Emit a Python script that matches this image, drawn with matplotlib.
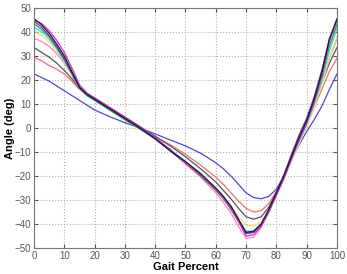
"""
Gait cycle joint angle curves - several trials overlaid
"""

import matplotlib
matplotlib.use("Agg")
import matplotlib.pyplot as plt

# gait percent samples shared by all trials
gait_pct = [0, 2.5, 5, 7.5, 10, 12.5, 15, 17.5, 20, 25, 30, 35, 40, 45, 50, 55, 60,
            62.5, 65, 67.5, 70, 72.5, 75, 77.5, 80, 82.5, 85, 87.5, 90, 92.5, 95, 97.5, 100]

# angle (deg) per trial
black = [45.5, 43, 39.5, 35, 30, 23.5, 17, 14, 12, 8, 4, 0, -4.5, -9.5, -14, -19, -25,
         -28.5, -32.5, -38, -43.5, -43, -40, -34, -27, -20, -12, -4, 3, 12, 23, 37, 45.5]
magenta = [45, 43.5, 40.5, 36.5, 31.5, 25, 18, 14.5, 12.5, 8.5, 4.5, 0.5, -4, -9, -14.5, -19.5, -25.5,
           -29, -33.5, -39, -45, -44.5, -41, -35, -28, -21, -13, -5, 2, 11, 22, 36, 45]
purple = [44.5, 42, 38.5, 34, 29, 23, 17, 14, 12, 8, 4, 0, -4.5, -9.5, -14.5, -19.5, -25.5,
          -29, -33, -38.5, -44, -43.5, -40.5, -34.5, -27, -19.5, -11, -3, 4, 13, 24, 37, 44.5]
green = [43.5, 41, 38, 33.5, 28.5, 22.5, 16.5, 13.5, 11.5, 7.5, 3.5, -0.5, -4.5, -9.5, -14.5, -20, -26,
         -29.5, -34, -39, -44, -43.5, -40.5, -35, -28, -20.5, -12.5, -5, 2, 11, 21, 34, 43]
cyan = [42, 40, 37, 33, 28, 22.5, 16.5, 13.5, 11.5, 7.5, 3.5, -0.5, -4.5, -9, -14, -19.5, -25.5,
        -29, -33.5, -38.5, -43, -43, -40, -34.5, -28, -21, -13, -5.5, 1.5, 10, 20, 32, 41.5]
yellow = [40.5, 38.5, 36, 32, 27.5, 22, 16.5, 13.5, 11.5, 7.5, 3.5, -0.5, -4.5, -9, -14, -19, -25,
          -28.5, -32.5, -37, -40.5, -41, -39, -34, -28, -21.5, -14, -6.5, 0.5, 8.5, 18, 29, 38]
pink = [37.5, 36, 34, 31, 27, 22, 16.5, 13.5, 12, 8, 4, 0, -4.5, -9.5, -15, -20.5, -27,
        -31, -35.5, -41, -46, -45.5, -41.5, -35, -27.5, -20, -12, -4.5, 2.5, 10.5, 19.5, 29, 37]
gray = [33.5, 31.5, 29.5, 27, 24, 20.5, 16.5, 14, 12.5, 8.5, 4.5, 0.5, -3.5, -7.5, -12, -17, -22.5,
        -26, -29.5, -33.5, -37, -38, -37, -33, -27, -20, -12.5, -5, 2, 10, 18.5, 27, 33.5]
salmon = [29.5, 28, 26, 24.5, 22.5, 19.5, 16, 14, 12.5, 8.5, 4.5, 0.5, -3.5, -7, -11, -15.5, -20.5,
          -23.5, -27, -30.5, -33.5, -35, -34.5, -31.5, -26.5, -20, -13, -6, 1, 8.5, 16, 23.5, 29]
blue = [22.5, 21, 19.5, 17.5, 15.5, 13.5, 11.5, 9.5, 7.5, 4.7, 2.2, 0, -2.5, -5, -7.5, -10.5, -14.5,
        -17, -20, -23.5, -27, -29, -29.5, -28.5, -25.5, -20, -13, -7, -1.5, 3.5, 9, 16, 22.5]

x_ticks = list(range(0, 101, 10))
y_ticks = list(range(-50, 51, 10))

plt.rcParams['font.family'] = ['Liberation Sans', 'DejaVu Sans']

fig = plt.figure(figsize=(3.47, 2.74), dpi=100)
ax = fig.add_axes([0.098, 0.095, 0.873, 0.876])

# draw the lighter traces first, the dark ones on top
trials = [
    (blue, '#4a4ad0'),
    (salmon, '#f07070'),
    (gray, '#555560'),
    (pink, '#ff80c8'),
    (yellow, '#e8e070'),
    (cyan, '#30e0e0'),
    (green, '#30a040'),
    (purple, '#7030b0'),
    (magenta, '#d030d0'),
    (black, '#20183a'),
]
for vals, col in trials:
    ax.plot(gait_pct, vals, color=col, linewidth=0.9)

ax.set_xlim(0, 100)
ax.set_ylim(-50, 50)
ax.set_xticks(x_ticks)
ax.set_yticks(y_ticks)
ax.grid(True, linestyle=':', color='#b0b0b0', linewidth=0.8)
ax.tick_params(direction='in', length=3, labelsize=7, colors='#555555',
               top=True, right=True, pad=2)
for s in ax.spines.values():
    s.set_color('#777777')
    s.set_linewidth(0.8)

ax.set_xlabel('Gait Percent', fontsize=8, fontweight='bold', labelpad=1)
ax.set_ylabel('Angle (deg)', fontsize=8, fontweight='bold', labelpad=0)

fig.savefig('out.png', dpi=100)
